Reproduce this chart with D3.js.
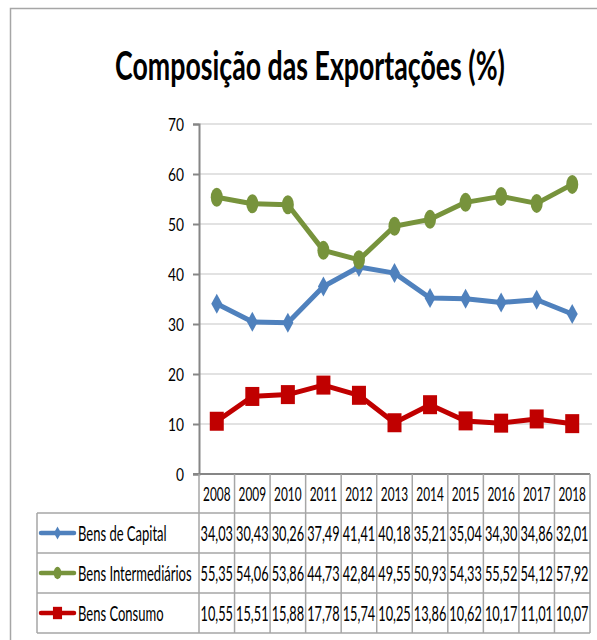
<!DOCTYPE html>
<html>
<head>
<meta charset="utf-8">
<script src="https://cdn.jsdelivr.net/npm/d3@7"></script>
<style>
  body { margin: 0; background: #fff; }
  svg { display: block; }
  text { font-family: Lato, "Open Sans", sans-serif; fill: #000; }
</style>
</head>
<body>
<div id="chart"></div>
<script>
const years = ['2008', '2009', '2010', '2011', '2012', '2013', '2014', '2015', '2016', '2017', '2018'];
const bensCapital = [34.03, 30.43, 30.26, 37.49, 41.41, 40.18, 35.21, 35.04, 34.30, 34.86, 32.01];
const bensIntermediarios = [55.35, 54.06, 53.86, 44.73, 42.84, 49.55, 50.93, 54.33, 55.52, 54.12, 57.92];
const bensConsumo = [10.55, 15.51, 15.88, 17.78, 15.74, 10.25, 13.86, 10.62, 10.17, 11.01, 10.07];
const seriesNames = ['Bens de Capital', 'Bens Intermediários', 'Bens Consumo'];
const yTicks = [0, 10, 20, 30, 40, 50, 60, 70];

const series = [
    { name: seriesNames[0], values: bensCapital, color: '#4F81BD', marker: 'diamond' },
    { name: seriesNames[1], values: bensIntermediarios, color: '#77933C', marker: 'circle' },
    { name: seriesNames[2], values: bensConsumo, color: '#C00000', marker: 'square' }
];

const W = 597, H = 640;
const svg = d3.select('#chart').append('svg').attr('width', W).attr('height', H);
svg.append('rect').attr('width', W).attr('height', H).attr('fill', '#fff');

// outer chart frame (runs off the picture at right and bottom)
svg.append('rect')
    .attr('x', 10.5).attr('y', 8.5).attr('width', 620).attr('height', 660)
    .attr('fill', 'none').attr('stroke', '#A6A6A6').attr('stroke-width', 1.5);

// horizontal squeeze so that sample text ends up target px wide
function ratio(size, sample, target, weight) {
    const t = svg.append('text').attr('font-size', size).attr('font-weight', weight || 'normal').text(sample);
    const w = t.node().getComputedTextLength();
    t.remove();
    return target / w;
}

// narrow text drawn at (x, y), squeezed by k
function narrowText(g, px, py, str, size, k, anchor) {
    return g.append('text')
        .attr('transform', `translate(${px},${py}) scale(${k},1)`)
        .attr('text-anchor', anchor || 'start')
        .attr('font-size', size)
        .text(str);
}

const kCell = ratio(21, '34,03', 32.5);
const kYear = ratio(19, '2008', 27.5);
const kTick = ratio(18, '70', 16);
const titleText = 'Composição das Exportações (%)';
const kTitle = ratio(40, titleText, 390, 'bold');

// title
narrowText(svg, 310, 80, titleText, 40, kTitle, 'middle').attr('font-weight', 'bold');

const x = d3.scaleBand().domain(years).range([199, 590]).padding(0);
const y = d3.scaleLinear().domain([0, 70]).range([474, 124]);

// gridlines
svg.append('g').selectAll('line')
    .data(yTicks.filter(d => d > 0))
    .enter().append('line')
    .attr('x1', 199).attr('x2', 592)
    .attr('y1', d => y(d)).attr('y2', d => y(d))
    .attr('stroke', '#D9D9D9').attr('stroke-width', 1.5);

// y axis (labels drawn separately so they can be squeezed)
const yAxis = svg.append('g')
    .attr('transform', 'translate(199,0)')
    .call(d3.axisLeft(y).tickValues(yTicks).tickSize(6).tickFormat(''));
yAxis.select('.domain').attr('stroke', '#868686').attr('stroke-width', 2);
yAxis.selectAll('.tick line').attr('stroke', '#868686').attr('stroke-width', 2);
yTicks.forEach(t => narrowText(svg, 184, y(t) + 6.5, d3.format('d')(t), 18, kTick, 'end'));

// lines and markers
const line = d3.line()
    .x((d, i) => x(years[i]) + x.bandwidth() / 2)
    .y(d => y(d));

function drawMarker(g, type, color, cx, cy, s) {
    if (type === 'diamond') {
        g.append('path')
            .attr('d', `M${cx},${cy - 10 * s}L${cx + 5.5 * s},${cy}L${cx},${cy + 10 * s}L${cx - 5.5 * s},${cy}Z`)
            .attr('fill', color);
    } else if (type === 'circle') {
        g.append('ellipse').attr('cx', cx).attr('cy', cy)
            .attr('rx', 6 * s).attr('ry', 9.5 * s).attr('fill', color);
    } else {
        g.append('rect').attr('x', cx - 7 * s).attr('y', cy - 9.5 * s)
            .attr('width', 14 * s).attr('height', 19 * s).attr('fill', color);
    }
}

series.forEach(s => {
    const g = svg.append('g');
    g.append('path').datum(s.values)
        .attr('d', line).attr('fill', 'none')
        .attr('stroke', s.color).attr('stroke-width', 5)
        .attr('stroke-linejoin', 'round');
    s.values.forEach((v, i) => drawMarker(g, s.marker, s.color, x(years[i]) + x.bandwidth() / 2, y(v), 1));
});

// bottom axis line
svg.append('line')
    .attr('x1', 193).attr('x2', 590).attr('y1', 474).attr('y2', 474)
    .attr('stroke', '#868686').attr('stroke-width', 2);

// data table
const tableTop = 474, headH = 39, rowH = 40, labelLeft = 37, tableRight = 590;
const border = '#A6A6A6';
const tbl = svg.append('g');

const bodyTop = tableTop + headH;
const tableBottom = bodyTop + rowH * series.length;
years.forEach(yr => {
    tbl.append('line')
        .attr('x1', x(yr)).attr('x2', x(yr))
        .attr('y1', tableTop).attr('y2', tableBottom)
        .attr('stroke', border).attr('stroke-width', 1.5);
    narrowText(tbl, x(yr) + x.bandwidth() / 2, tableTop + headH / 2 + 7, yr, 19, kYear, 'middle');
});
tbl.append('line')
    .attr('x1', tableRight).attr('x2', tableRight)
    .attr('y1', tableTop).attr('y2', tableBottom)
    .attr('stroke', border).attr('stroke-width', 1.5);
tbl.append('line')
    .attr('x1', labelLeft).attr('x2', labelLeft)
    .attr('y1', bodyTop).attr('y2', tableBottom)
    .attr('stroke', border).attr('stroke-width', 1.5);

// horizontal row lines
d3.range(series.length + 1).forEach(r => {
    tbl.append('line')
        .attr('x1', labelLeft).attr('x2', tableRight)
        .attr('y1', bodyTop + r * rowH).attr('y2', bodyTop + r * rowH)
        .attr('stroke', border).attr('stroke-width', 1.5);
});

series.forEach((s, r) => {
    const cy = bodyTop + r * rowH + rowH / 2;
    // legend key
    tbl.append('line')
        .attr('x1', 41).attr('x2', 74).attr('y1', cy).attr('y2', cy)
        .attr('stroke', s.color).attr('stroke-width', 4.5).attr('stroke-linecap', 'round');
    drawMarker(tbl, s.marker, s.color, 57.5, cy, 0.65);
    narrowText(tbl, 78, cy + 7.5, s.name, 21, kCell * 1.02);
    s.values.forEach((v, i) => {
        narrowText(tbl, x(years[i]) + x.bandwidth() / 2, cy + 7.5,
            d3.format('.2f')(v).replace('.', ','), 21, kCell, 'middle');
    });
});
</script>
</body>
</html>
